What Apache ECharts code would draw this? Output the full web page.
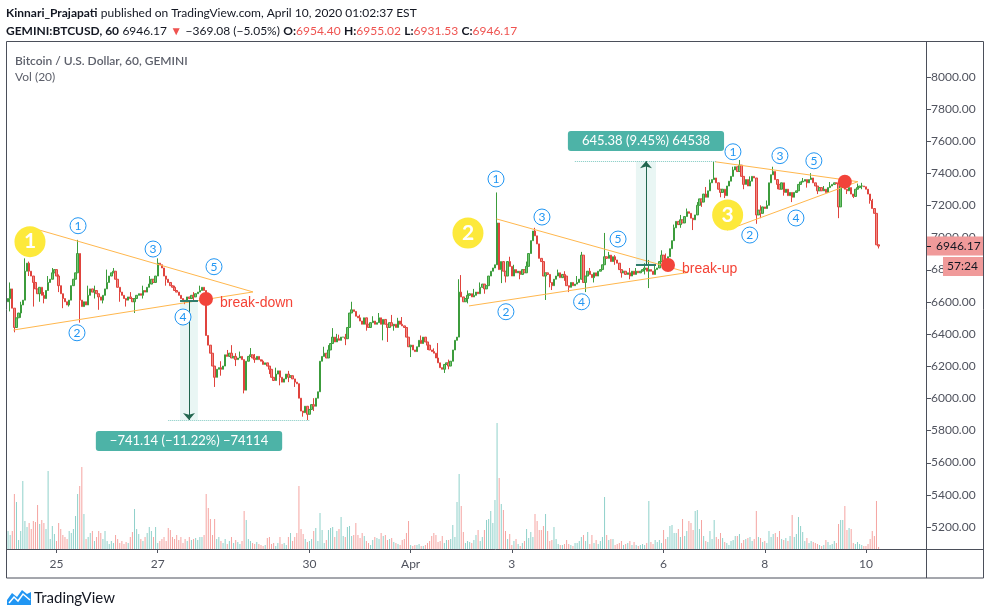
<!DOCTYPE html>
<html>
<head>
<meta charset="utf-8">
<title>GEMINI:BTCUSD, 60</title>
<script src="https://cdn.jsdelivr.net/npm/echarts@6/dist/echarts.min.js"></script>
<style>
  html, body { margin: 0; padding: 0; background: #fff; }
  #chart { width: 991px; height: 615px; }
</style>
</head>
<body>
<div id="chart"></div>
<script>
  // hourly closes, first candle 2020-03-24 01:00
  const firstOpen = 6600;
  const closeMar24 = [6620,6680,6560,6440,6500,6530,6580,6610,6790,6840,6790,6760,6720,6680,6650,6690,6640,6620,6670,6720,6740,6780,6800];
  const closeMar25 = [6760,6700,6650,6620,6600,6580,6610,6700,6740,6780,6900,6610,6570,6600,6580,6640,6680,6660,6670,6650,6630,6610,6640,6680];
  const closeMar26 = [6720,6760,6780,6790,6740,6690,6660,6640,6620,6610,6630,6620,6600,6620,6640,6650,6640,6670,6660,6690,6710,6740,6720,6760];
  const closeMar27 = [6840,6830,6810,6760,6740,6720,6700,6690,6670,6660,6640,6620,6610,6600,6630,6620,6640,6630,6650,6660,6670,6690,6670,6390];
  const closeMar28 = [6330,6280,6200,6130,6180,6190,6180,6200,6270,6260,6280,6250,6260,6240,6250,6260,6240,6050,6230,6260,6270,6250,6240,6260];
  const closeMar29 = [6240,6230,6210,6220,6200,6180,6130,6110,6150,6170,6130,6100,6120,6150,6130,6140,6120,6100,6090,6000,5920,5910,5950,5900];
  const closeMar30 = [5930,5960,5950,6000,6040,6230,6260,6280,6250,6300,6340,6380,6350,6370,6360,6380,6380,6370,6440,6530,6550,6540,6510,6500];
  const closeMar31 = [6480,6460,6500,6460,6440,6470,6480,6460,6470,6500,6460,6490,6460,6440,6470,6450,6460,6440,6480,6460,6450,6440,6380,6320];
  const closeApr01 = [6330,6300,6290,6320,6360,6340,6380,6350,6330,6300,6290,6280,6250,6220,6190,6180,6210,6220,6200,6230,6300,6360,6380,6660];
  const closeApr02 = [6630,6600,6620,6640,6650,6630,6640,6660,6650,6690,6710,6680,6700,6760,6790,6810,6830,7090,6800,6850,6790,6760,6850,6820];
  const closeApr03 = [6760,6800,6780,6790,6770,6800,6780,6820,6900,6980,7040,7010,6960,6870,6850,6760,6780,6770,6720,6700,6740,6760,6780,6750];
  const closeApr04 = [6770,6760,6700,6690,6720,6700,6710,6720,6740,6890,6720,6760,6790,6770,6750,6780,6760,6790,6800,6830,6880,6870,6890,6850];
  const closeApr05 = [6880,6860,6840,6800,6780,6790,6770,6780,6760,6790,6770,6790,6780,6790,6800,6810,6790,6800,6790,6770,6800,6810,6850,6890];
  const closeApr06 = [6840,6830,6880,6930,6980,7060,7100,7080,7110,7090,7130,7160,7150,7120,7110,7140,7200,7240,7220,7270,7250,7290,7340,7360];
  const closeApr07 = [7370,7340,7300,7280,7300,7260,7320,7350,7380,7420,7440,7410,7450,7380,7330,7360,7320,7350,7380,7370,7140,7170,7150,7190];
  const closeApr08 = [7180,7200,7340,7390,7410,7360,7330,7300,7340,7280,7300,7260,7280,7250,7280,7290,7330,7345,7350,7360,7340,7360,7370,7340];
  const closeApr09 = [7320,7290,7310,7290,7300,7280,7310,7320,7330,7340,7335,7190,7320,7340,7300,7290,7310,7270,7255,7300,7310,7320,7320,7315.25];
  const closeApr10 = [7300,7270,7230,7180,7150,6954.40,6946.17];

  // wicks: [candle index, high, low]
  const wicks = [[1,6720,6540],[3,null,6410],[6,6600,6500],[8,6870,null],[10,6850,6760],[12,null,6570],[15,null,6600],[17,6660,6590],
    [19,6760,null],[21,6810,null],[24,6770,6660],[26,null,6560],[29,null,6570],[33,6985,null],[34,null,6470],[38,6700,null],[41,6700,6620],
    [43,null,6550],[45,null,6590],[47,6800,null],[50,6810,null],[53,null,6600],[56,null,6570],[58,6660,null],[60,null,6530],[64,6700,6620],
    [67,6760,null],[71,6870,null],[75,null,6700],[79,6700,null],[84,null,6585],[88,6660,6600],[91,6700,null],[98,null,6070],[101,6230,6140],
    [104,6300,null],[106,6330,null],[108,6280,6200],[110,6290,null],[112,null,6030],[115,6312,null],[117,6275,6220],[121,6240,null],
    [124,null,6150],[127,6190,null],[129,null,6080],[133,6170,6100],[136,null,6070],[140,null,5885],[142,null,5864],[145,6000,5920],
    [150,6320,null],[152,6330,6260],[154,6436,null],[156,6400,null],[157,6395,null],[160,6400,6330],[163,6600,null],[167,6520,null],
    [170,null,6420],[173,6510,null],[176,6530,null],[178,null,6360],[180,null,6350],[182,6518,null],[183,null,6420],[185,6500,null],
    [187,6505,null],[191,null,6256],[196,6390,null],[199,null,6300],[202,6310,null],[204,6343,null],[207,null,6157],[209,6240,6180],
    [214,6740,null],[215,6766,null],[218,6670,6590],[221,6680,null],[224,6720,null],[226,null,6650],[232,7280,null],[234,null,6716],
    [236,null,6720],[238,6880,null],[240,6830,null],[243,null,6740],[246,6850,null],[250,7060,null],[252,6920,null],[255,null,6611],
    [257,null,6690],[258,null,6673],[261,6800,null],[264,6790,6730],[266,null,6660],[270,6760,null],[272,6910,null],[274,null,6660],
    [276,6810,null],[278,null,6720],[283,7028,null],[285,6910,null],[288,6890,6830],[291,null,6750],[295,6810,6740],[298,6810,null],
    [302,6840,6770],[304,6860,6685],[307,6830,null],[310,6920,null],[312,6900,null],[316,7080,null],[319,7140,7060],[322,7180,null],
    [325,null,7046],[327,7220,null],[329,null,7190],[331,7314,null],[333,7360,null],[335,7470,null],[338,null,7250],[340,null,7245],
    [344,7440,null],[347,7482,null],[349,null,7300],[352,7380,null],[355,null,7085],[357,7200,7120],[360,7230,null],[363,7440,null],
    [365,null,7300],[368,null,7260],[370,7300,null],[372,null,7220],[377,7370,null],[379,null,7310],[381,7400,null],[384,null,7270],
    [387,7320,null],[390,7345,null],[394,null,7120],[396,7360,null],[398,null,7270],[401,null,7245],[403,7335,null],[405,7340,7300],
    [409,null,7210],[410,7240,null],[413,6955.02,6931.53]];

  // hourly volume
  const volMar24 = [18,14,18,55,47,9,18,68,28,22,26,20,28,27,44,25,29,26,20,78,10,23,15];
  const volMar25 = [8,26,20,14,12,10,18,16,20,33,55,63,82,35,10,12,16,18,8,12,18,16,10,18];
  const volMar26 = [8,5,8,6,14,10,6,8,5,7,6,12,17,40,20,15,10,8,12,16,22,18,12,22];
  const volMar27 = [6,8,10,12,8,21,19,12,10,14,9,12,6,10,8,12,9,10,11,9,12,12,14,55];
  const volMar28 = [41,30,14,30,10,12,8,6,10,5,8,12,6,9,7,5,8,38,29,10,8,6,5,7];
  const volMar29 = [5,4,3,4,11,12,5,6,3,6,12,5,6,4,12,16,8,12,16,63,20,15,10,7];
  const volMar30 = [8,10,18,21,8,36,19,6,9,19,21,22,12,18,20,32,13,12,22,23,13,14,26,14];
  const volMar31 = [11,16,13,8,6,4,9,12,11,10,16,13,14,9,10,11,7,6,5,4,9,10,16,28];
  const volApr01 = [4,3,4,4,5,3,3,4,6,8,13,16,14,7,8,13,6,9,9,10,24,12,47,75];
  const volApr02 = [43,17,6,8,7,6,9,14,19,8,12,19,29,30,38,26,49,126,71,45,39,18,10,15];
  const volApr03 = [4,8,10,5,3,6,8,20,11,17,12,35,28,19,19,23,35,18,8,9,22,10,5,4];
  const volApr04 = [4,5,9,5,4,3,6,6,8,12,14,8,17,5,14,6,9,5,8,12,52,14,9,10];
  const volApr05 = [10,4,5,6,8,4,5,6,8,4,7,4,3,4,5,4,6,48,7,5,9,7,9,6];
  const volApr06 = [19,10,12,23,24,16,16,20,12,30,13,18,28,26,19,38,39,20,29,13,8,7,18,10];
  const volApr07 = [29,12,10,16,11,7,6,4,8,9,13,13,15,6,9,10,11,12,8,10,38,12,11,7];
  const volApr08 = [8,6,18,12,15,16,12,18,10,9,11,8,13,34,12,15,32,23,17,8,11,6,8,7];
  const volApr09 = [6,5,4,3,4,9,7,4,5,8,6,25,29,29,43,19,21,20,6,5,7,5,4,3];
  const volApr10 = [3,5,10,18,13,48,2];

  const tickDays = ['2020-03-25T00','2020-03-27T00','2020-03-30T00','2020-04-01T00','2020-04-03T00','2020-04-06T00','2020-04-08T00','2020-04-10T00'];
  const tickLabels = ['25','27','30','Apr','3','6','8','10'];
  const priceTicks = [5200,5400,5600,5800,6000,6200,6400,6600,6800,7000,7200,7400,7600,7800,8000];
  const lastPrice = 6946.17;
  const barCountdown = '57:24';

  // drawings, in [candle index, price]
  const trendLines = [
    [[12.0, 7057], [116.2, 6661]], [[2.5, 6424], [116.2, 6661]],
    [[231.8, 7115], [322.6, 6782]], [[218.7, 6574], [322.6, 6782]],
    [[335.4, 7471], [403.2, 7347]], [[341.1, 7046], [403.2, 7347]]
  ];
  const waveLabels = [
    ['1', 33.2, 7073], ['2', 32.7, 6407], ['3', 68.8, 6928], ['4', 83.0, 6505], ['5', 97.7, 6818],
    ['1', 231.5, 7364], ['2', 236.2, 6538], ['3', 253.3, 7127], ['4', 272.1, 6600], ['5', 289.4, 6990],
    ['1', 343.9, 7533], ['2', 351.9, 7015], ['3', 366.2, 7509], ['4', 373.8, 7121], ['5', 382.3, 7477]
  ];
  const patternLabels = [['1', 10.4, 6974], ['2', 218.2, 7028], ['3', 341.4, 7140]];
  const breakPoints = [['break-down', 93.9, 6617], ['break-up', 313.1, 6829], ['', 397.0, 7347]];
  // price range measurements: [from index, to index, start price, end price, label, dotted from, dotted to]
  const measures = [
    [81.6, 90.1, 6605.3, 5864.2, '\u2212741.14 (\u221211.22%) \u221274114', 76.0, 143.3],
    [297.9, 307.4, 6829.4, 7474.8, '645.38 (9.45%) 64538', 268.9, 335.8]
  ];

  const closes = [].concat(closeMar24, closeMar25, closeMar26, closeMar27, closeMar28, closeMar29, closeMar30, closeMar31,
    closeApr01, closeApr02, closeApr03, closeApr04, closeApr05, closeApr06, closeApr07, closeApr08, closeApr09, closeApr10);
  const volumes = [].concat(volMar24, volMar25, volMar26, volMar27, volMar28, volMar29, volMar30, volMar31,
    volApr01, volApr02, volApr03, volApr04, volApr05, volApr06, volApr07, volApr08, volApr09, volApr10);

  const slotCount = 436; // empty hours to the right of the last bar
  const startTime = Date.UTC(2020, 2, 24, 1);
  const categories = [];
  for (let k = 0; k < slotCount; k++) {
    categories.push(new Date(startTime + k * 3600000).toISOString().slice(0, 13));
  }
  const tickIndex = {};
  tickDays.forEach((d, n) => { tickIndex[categories.indexOf(d)] = tickLabels[n]; });

  const wickMap = {};
  wicks.forEach(w => { wickMap[w[0]] = w; });
  const candles = [];
  const volBars = [];
  let prev = firstOpen;
  closes.forEach((c, i) => {
    const o = prev;
    const w = wickMap[i];
    const hi = Math.max(o, c, w && w[1] != null ? w[1] : -Infinity);
    const lo = Math.min(o, c, w && w[2] != null ? w[2] : Infinity);
    candles.push([o, c, lo, hi]);
    volBars.push({ value: volumes[i], itemStyle: { color: c >= o ? '#8fd1ca' : '#f5a4a1' } });
    prev = c;
  });

  const font = 'Lato, "Liberation Sans", Arial, sans-serif';
  const axisColor = '#50535e';
  const teal = '#4db3a7';

  let markLines = trendLines.map(l => [
    { coord: l[0], lineStyle: { color: '#ffb74d', width: 1, type: 'solid' } },
    { coord: l[1] }
  ]);
  let markAreas = [];
  let markPoints = [];
  measures.forEach(m => {
    const mid = (m[0] + m[1]) / 2;
    markAreas.push([{ coord: [m[0], m[2]] }, { coord: [m[1], m[3]] }]);
    markLines.push([{ coord: [m[5], m[3]], lineStyle: { color: '#7fc9c1', width: 1, type: 'dotted' } }, { coord: [m[6], m[3]] }]);
    markLines.push([{ coord: [m[0], m[2]], lineStyle: { color: '#2f7d6d', width: 2, type: 'solid' } }, { coord: [m[1], m[2]] }]);
    markLines.push([{ coord: [mid, m[2]], symbol: 'none', lineStyle: { color: '#22664f', width: 1, type: 'solid' } },
      { coord: [mid, m[3]], symbol: 'arrow', symbolSize: [9, 7] }]);
    const labelPrice = m[3] < m[2] ? m[3] - 130 : m[3] + 125;
    markPoints.push({
      coord: [mid, labelPrice], symbol: 'rect', symbolSize: 0,
      label: { show: true, position: 'inside', formatter: m[4], color: '#fff', fontFamily: font, fontSize: 13,
        backgroundColor: teal, borderRadius: 3, padding: [4, 14, 3, 14] }
    });
  });
  waveLabels.forEach(w => markPoints.push({
    coord: [w[1], w[2]], symbol: 'circle', symbolSize: 16,
    itemStyle: { color: '#fff', borderColor: '#2196f3', borderWidth: 1 },
    label: { show: true, position: 'inside', formatter: w[0], color: '#2196f3', fontSize: 12, fontFamily: font }
  }));
  patternLabels.forEach(w => markPoints.push({
    coord: [w[1], w[2]], symbol: 'circle', symbolSize: 31,
    itemStyle: { color: '#fde93b' },
    label: { show: true, position: 'inside', formatter: w[0], color: '#fff', fontSize: 21, fontWeight: 'bold', fontFamily: font }
  }));
  breakPoints.forEach(b => markPoints.push({
    coord: [b[1], b[2]], symbol: 'circle', symbolSize: 14,
    itemStyle: { color: '#f2433a' },
    label: { show: b[0] !== '', position: 'right', distance: 7, offset: [0, 4], formatter: b[0], color: '#f44336', fontSize: 14, fontFamily: '"Liberation Sans", Arial, sans-serif' }
  }));

  const chart = echarts.init(document.getElementById('chart'));
  chart.setOption({
    animation: false,
    backgroundColor: '#fff',
    grid: [
      { left: 7, right: 65, top: 41, bottom: 66 },
      { left: 7, right: 65, top: 41, bottom: 66 }
    ],
    xAxis: [
      { type: 'category', gridIndex: 0, data: categories, show: false },
      {
        type: 'category', gridIndex: 1, data: categories,
        axisLine: { show: false },
        axisTick: { show: true, alignWithLabel: true, length: 4, interval: idx => tickIndex[idx] !== undefined, lineStyle: { color: axisColor } },
        axisLabel: { interval: idx => tickIndex[idx] !== undefined, formatter: (v, idx) => tickIndex[idx] || '', margin: 9,
          color: axisColor, fontSize: 12, fontFamily: font },
        splitLine: { show: false }
      },
      { type: 'value', gridIndex: 0, min: -0.5, max: slotCount - 0.5, show: false }
    ],
    yAxis: [
      {
        type: 'value', gridIndex: 0, position: 'right', min: 5061.9, max: 8222.1,
        axisLine: { show: false },
        axisTick: { show: false },
        axisLabel: { customValues: priceTicks, formatter: v => v.toFixed(2), margin: 5, color: axisColor, fontSize: 12, fontFamily: font },
        splitLine: { show: false }
      },
      { type: 'value', gridIndex: 1, min: 0, max: 508, show: false }
    ],
    series: [
      {
        type: 'bar', xAxisIndex: 1, yAxisIndex: 1, data: volBars, barWidth: 1, silent: true, z: 1
      },
      {
        type: 'candlestick', xAxisIndex: 0, yAxisIndex: 0, data: candles, barWidth: 1.9, silent: true, z: 2,
        itemStyle: { color: '#74c874', color0: '#f28a85', borderColor: '#3c9c3c', borderColor0: '#e0433d', borderWidth: 1 }
      },
      {
        type: 'scatter', xAxisIndex: 2, yAxisIndex: 0, data: [], silent: true, z: 5,
        markArea: { silent: true, itemStyle: { color: 'rgba(77,179,167,0.12)' }, label: { show: false }, data: markAreas },
        markLine: { silent: true, symbol: 'none', label: { show: false }, data: markLines },
        markPoint: { silent: true, data: markPoints }
      }
    ]
  });

  const yLast = Math.round(chart.convertToPixel({ yAxisIndex: 0 }, lastPrice));
  const frameColor = '#4b4f5a';
  const priceTickMarks = priceTicks.map(p => {
    const y = Math.round(chart.convertToPixel({ yAxisIndex: 0 }, p)) + 0.5;
    return { type: 'line', z: 95, shape: { x1: 927, y1: y, x2: 931, y2: y }, style: { stroke: axisColor, lineWidth: 1 } };
  });
  chart.setOption({
    graphic: [
      { type: 'text', x: 6, y: 13, z: 100, style: {
        text: '{b|Kinnari_Prajapati} {n|published on TradingView.com, April 10, 2020 01:02:37 EST}',
        verticalAlign: 'middle',
        rich: {
          b: { fontWeight: 'bold', fontSize: 12, fontFamily: font, fill: '#131722' },
          n: { fontSize: 12, fontFamily: font, fill: '#131722' }
        } } },
      { type: 'text', x: 6, y: 31, z: 100, style: {
        text: '{b|GEMINI:BTCUSD, 60} {n|6946.17} {r|\u25BC} {n|\u2212369.08 (\u22125.05%)} {b|O:}{r|6954.40} {b|H:}{r|6955.02} {b|L:}{r|6931.53} {b|C:}{r|6946.17}',
        verticalAlign: 'middle',
        rich: {
          b: { fontWeight: 'bold', fontSize: 12, fontFamily: font, fill: '#131722' },
          n: { fontSize: 12, fontFamily: font, fill: '#131722' },
          r: { fontSize: 12, fontFamily: font, fill: '#ef5350' }
        } } },
      { type: 'text', x: 15, y: 61, z: 100, style: { text: 'Bitcoin / U.S. Dollar, 60, GEMINI', verticalAlign: 'middle',
        font: '600 12px ' + font, fill: '#5d606b' } },
      { type: 'text', x: 15, y: 77, z: 100, style: { text: 'Vol (20)', verticalAlign: 'middle', font: '12px ' + font, fill: '#5d606b' } },
      { type: 'rect', z: 90, shape: { x: 6.5, y: 41.5, width: 977, height: 536.5 }, style: { fill: null, stroke: frameColor, lineWidth: 1 } },
      { type: 'line', z: 90, shape: { x1: 926.5, y1: 41.5, x2: 926.5, y2: 578 }, style: { stroke: frameColor, lineWidth: 1 } },
      { type: 'line', z: 90, shape: { x1: 6.5, y1: 549.5, x2: 984, y2: 549.5 }, style: { stroke: frameColor, lineWidth: 1 } },
      ...priceTickMarks,
      { type: 'rect', z: 100, shape: { x: 927, y: yLast - 9.5, width: 56, height: 19 }, style: { fill: '#f09a9a' } },
      { type: 'line', z: 101, shape: { x1: 927, y1: yLast + 0.5, x2: 931, y2: yLast + 0.5 }, style: { stroke: '#131722', lineWidth: 1 } },
      { type: 'text', z: 101, x: 936, y: yLast + 0.5, style: { text: lastPrice.toFixed(2), verticalAlign: 'middle', font: '12px ' + font, fill: '#131722' } },
      { type: 'rect', z: 100, shape: { x: 943, y: yLast + 11, width: 40, height: 19 }, style: { fill: '#f09a9a' } },
      { type: 'text', z: 101, x: 947, y: yLast + 20.5, style: { text: barCountdown, verticalAlign: 'middle', font: '12px ' + font, fill: '#131722' } },
      { type: 'polygon', z: 100, shape: { points: [[7, 605], [7, 600], [12, 593], [17, 597], [22, 590], [27, 594], [31, 592], [31, 605]] },
        style: { fill: '#2196f3' } },
      { type: 'polyline', z: 101, shape: { points: [[9, 603], [14, 597], [18, 601], [23, 594], [30, 600]] },
        style: { stroke: '#fff', lineWidth: 1.5, fill: null } },
      { type: 'text', x: 34, y: 598, z: 100, style: { text: 'TradingView', verticalAlign: 'middle', font: '15px ' + font, fill: '#131722' } }
    ]
  });
</script>
</body>
</html>
